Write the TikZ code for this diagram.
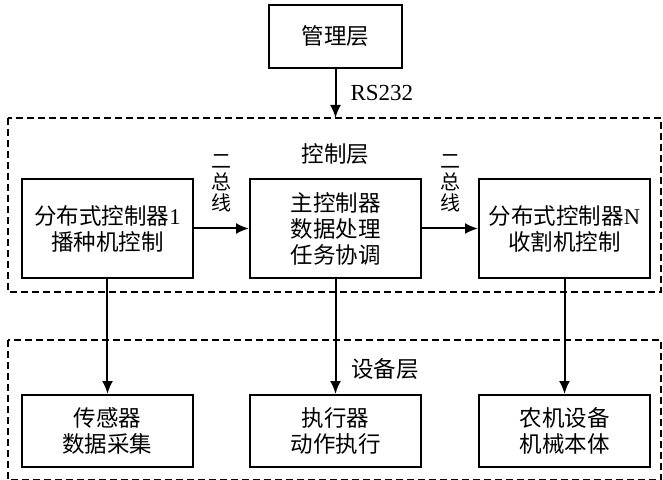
\documentclass[tikz,border=0pt]{standalone}
\usepackage{fontspec}
\setmainfont{Liberation Serif}
\newfontfamily\cjk{Noto Sans CJK SC}
\usepackage{tikz}
\usetikzlibrary{positioning,arrows.meta,calc}
\newcommand{\rmtxt}[1]{{\rmfamily #1}}

\begin{document}
\begin{tikzpicture}[
  x=1bp, y=1bp,
  node distance=109bp and 55bp,
  box/.style={draw, line width=2bp, minimum width=171bp, minimum height=99bp, align=center, inner sep=2bp,
    font=\fontsize{22.5bp}{26bp}\selectfont\cjk},
  devbox/.style={box, minimum height=72bp},
  layer/.style={line width=2.2bp, dash pattern=on 7bp off 4bp},
  tag/.style={font=\fontsize{22.5bp}{26bp}\selectfont\cjk, inner sep=0},
  bus/.style={font=\fontsize{20bp}{21bp}\selectfont\cjk, align=center, inner sep=0},
  arr/.style={-{Latex[length=13bp,width=11bp]}, line width=2bp}
]
\useasboundingbox (0,0) rectangle (663,-480);

\node[box] (main) at (335.5,-228.5) {主控制器\\数据处理\\任务协调};
\node[box, left=55bp of main] (dist1) {分布式控制器\rmtxt{1}\\播种机控制};
\node[box, right=56bp of main] (distN) {分布式控制器\rmtxt{N}\\收割机控制};
\node[box, minimum width=133bp, minimum height=63bp, above=of main] (mgmt) {管理层};

\node[devbox, below=115bp of dist1] (sensor) {传感器\\数据采集};
\node[devbox, below=115bp of main] (actuator) {执行器\\动作执行};
\node[devbox, below=115bp of distN] (machine) {农机设备\\机械本体};

% layers
\coordinate (ctlTL) at ($(dist1.north west)+(-13,60)$);
\coordinate (ctlBR) at ($(distN.south east)+(10,-13)$);
\coordinate (devTL) at ($(sensor.north west)+(-13,54)$);
\coordinate (devBR) at ($(machine.south east)+(10,-12)$);
\draw[layer] (ctlTL) rectangle (ctlBR);
\draw[layer] (devTL) rectangle (devBR);
\node[tag] (ctlName) at ($(main.north)+(0,24)$) {控制层};
\node[tag] (devName) at ($(actuator.north)+(49.5,25)$) {设备层};

\draw[arr] (mgmt.south) -- (mgmt.south |- ctlTL)
  node[midway, right=14bp, inner sep=0, font=\fontsize{23bp}{26bp}\selectfont] (rs) {RS232};
\draw[arr] (dist1) -- (main) node[midway, above=15bp, bus] (bus1) {二\\总\\线};
\draw[arr] (main) -- (distN) node[midway, above=15bp, bus] (bus2) {二\\总\\线};

\draw[arr] (dist1) -- (sensor);
\draw[arr] (main) -- (actuator);
\draw[arr] (distN) -- (machine);
\end{tikzpicture}
\end{document}
